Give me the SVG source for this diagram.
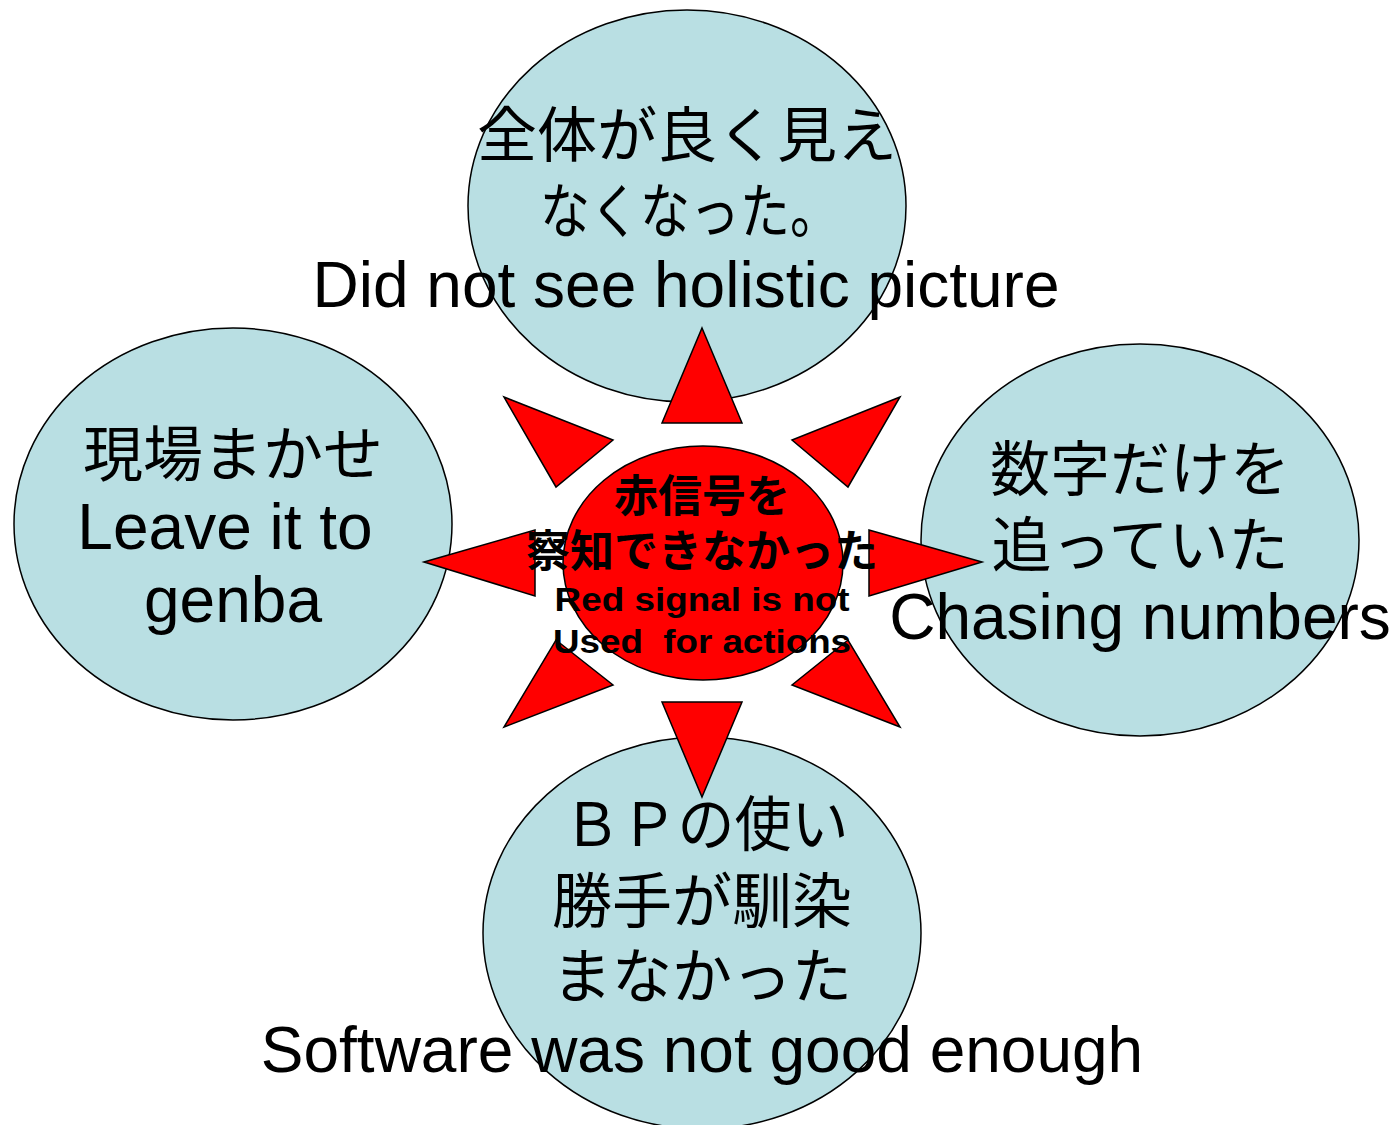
<svg xmlns="http://www.w3.org/2000/svg" width="1393" height="1125" viewBox="0 0 1393 1125">
<style>
.bub{fill:#b9dfe3;stroke:#000;stroke-width:1.5}
.ray{fill:#ff0000;stroke:#000;stroke-width:1.5;stroke-linejoin:miter}
.jp{font-family:"Noto Sans CJK JP","Liberation Sans",sans-serif;font-size:60px;fill:#000;text-anchor:middle}
.en{font-family:"Liberation Sans",Arial,sans-serif;font-size:64px;fill:#000;text-anchor:middle}
.cjp{font-family:"Noto Sans CJK JP","Liberation Sans",sans-serif;font-size:44px;font-weight:bold;fill:#000;text-anchor:middle}
.cen{font-family:"Liberation Sans",Arial,sans-serif;font-size:34px;font-weight:bold;fill:#000;text-anchor:middle}
</style>
<rect width="1393" height="1125" fill="#fff"/>
<g id="node-top"><ellipse class="bub" cx="687" cy="206" rx="219" ry="196"/></g>
<g id="node-left"><ellipse class="bub" cx="233" cy="524" rx="219" ry="196"/></g>
<g id="node-right"><ellipse class="bub" cx="1140" cy="540" rx="219" ry="196"/></g>
<g id="node-bottom"><ellipse class="bub" cx="702" cy="933" rx="219" ry="196"/></g>
<g id="connectors">
<polygon class="ray" points="702,328 742,423 662,423"/>
<polygon class="ray" points="702,797 742,702 662,702"/>
<polygon class="ray" points="424,562 535,530 535,596"/>
<polygon class="ray" points="982,562 869,530 869,596"/>
<polygon class="ray" points="504,397 613,440 556,487"/>
<polygon class="ray" points="900,397 792,440 848,487"/>
<polygon class="ray" points="504,727 613,685 556,640"/>
<polygon class="ray" points="900,727 792,685 848,640"/>
</g>
<g id="node-center"><ellipse class="ray" cx="703" cy="563" rx="140" ry="117"/></g>
<g id="labels">
<text class="jp" x="687" y="157">全体が良く見え</text>
<text class="jp" x="690" y="233" textLength="300" lengthAdjust="spacingAndGlyphs">なくなった。</text>
<text class="en" x="686" y="307">Did not see holistic picture</text>
<text class="jp" x="233" y="476">現場まかせ</text>
<text class="en" x="225" y="549">Leave it to</text>
<text class="en" x="233" y="622">genba</text>
<text class="jp" x="1140" y="491">数字だけを</text>
<text class="jp" x="1140" y="567">追っていた</text>
<text class="en" x="1140" y="639">Chasing numbers</text>
<text class="jp" x="706" y="846" textLength="285" lengthAdjust="spacingAndGlyphs">ＢＰの使い</text>
<text class="jp" x="702" y="923">勝手が馴染</text>
<text class="jp" x="702" y="998">まなかった</text>
<text class="en" x="702" y="1072">Software was not good enough</text>
<text class="cjp" x="702" y="512">赤信号を</text>
<text class="cjp" x="702" y="567">察知できなかった</text>
<text class="cen" x="702" y="611" textLength="295" lengthAdjust="spacingAndGlyphs">Red signal is not</text>
<text class="cen" x="702" y="653" textLength="298" lengthAdjust="spacingAndGlyphs" xml:space="preserve">Used  for actions</text>
</g>
</svg>
